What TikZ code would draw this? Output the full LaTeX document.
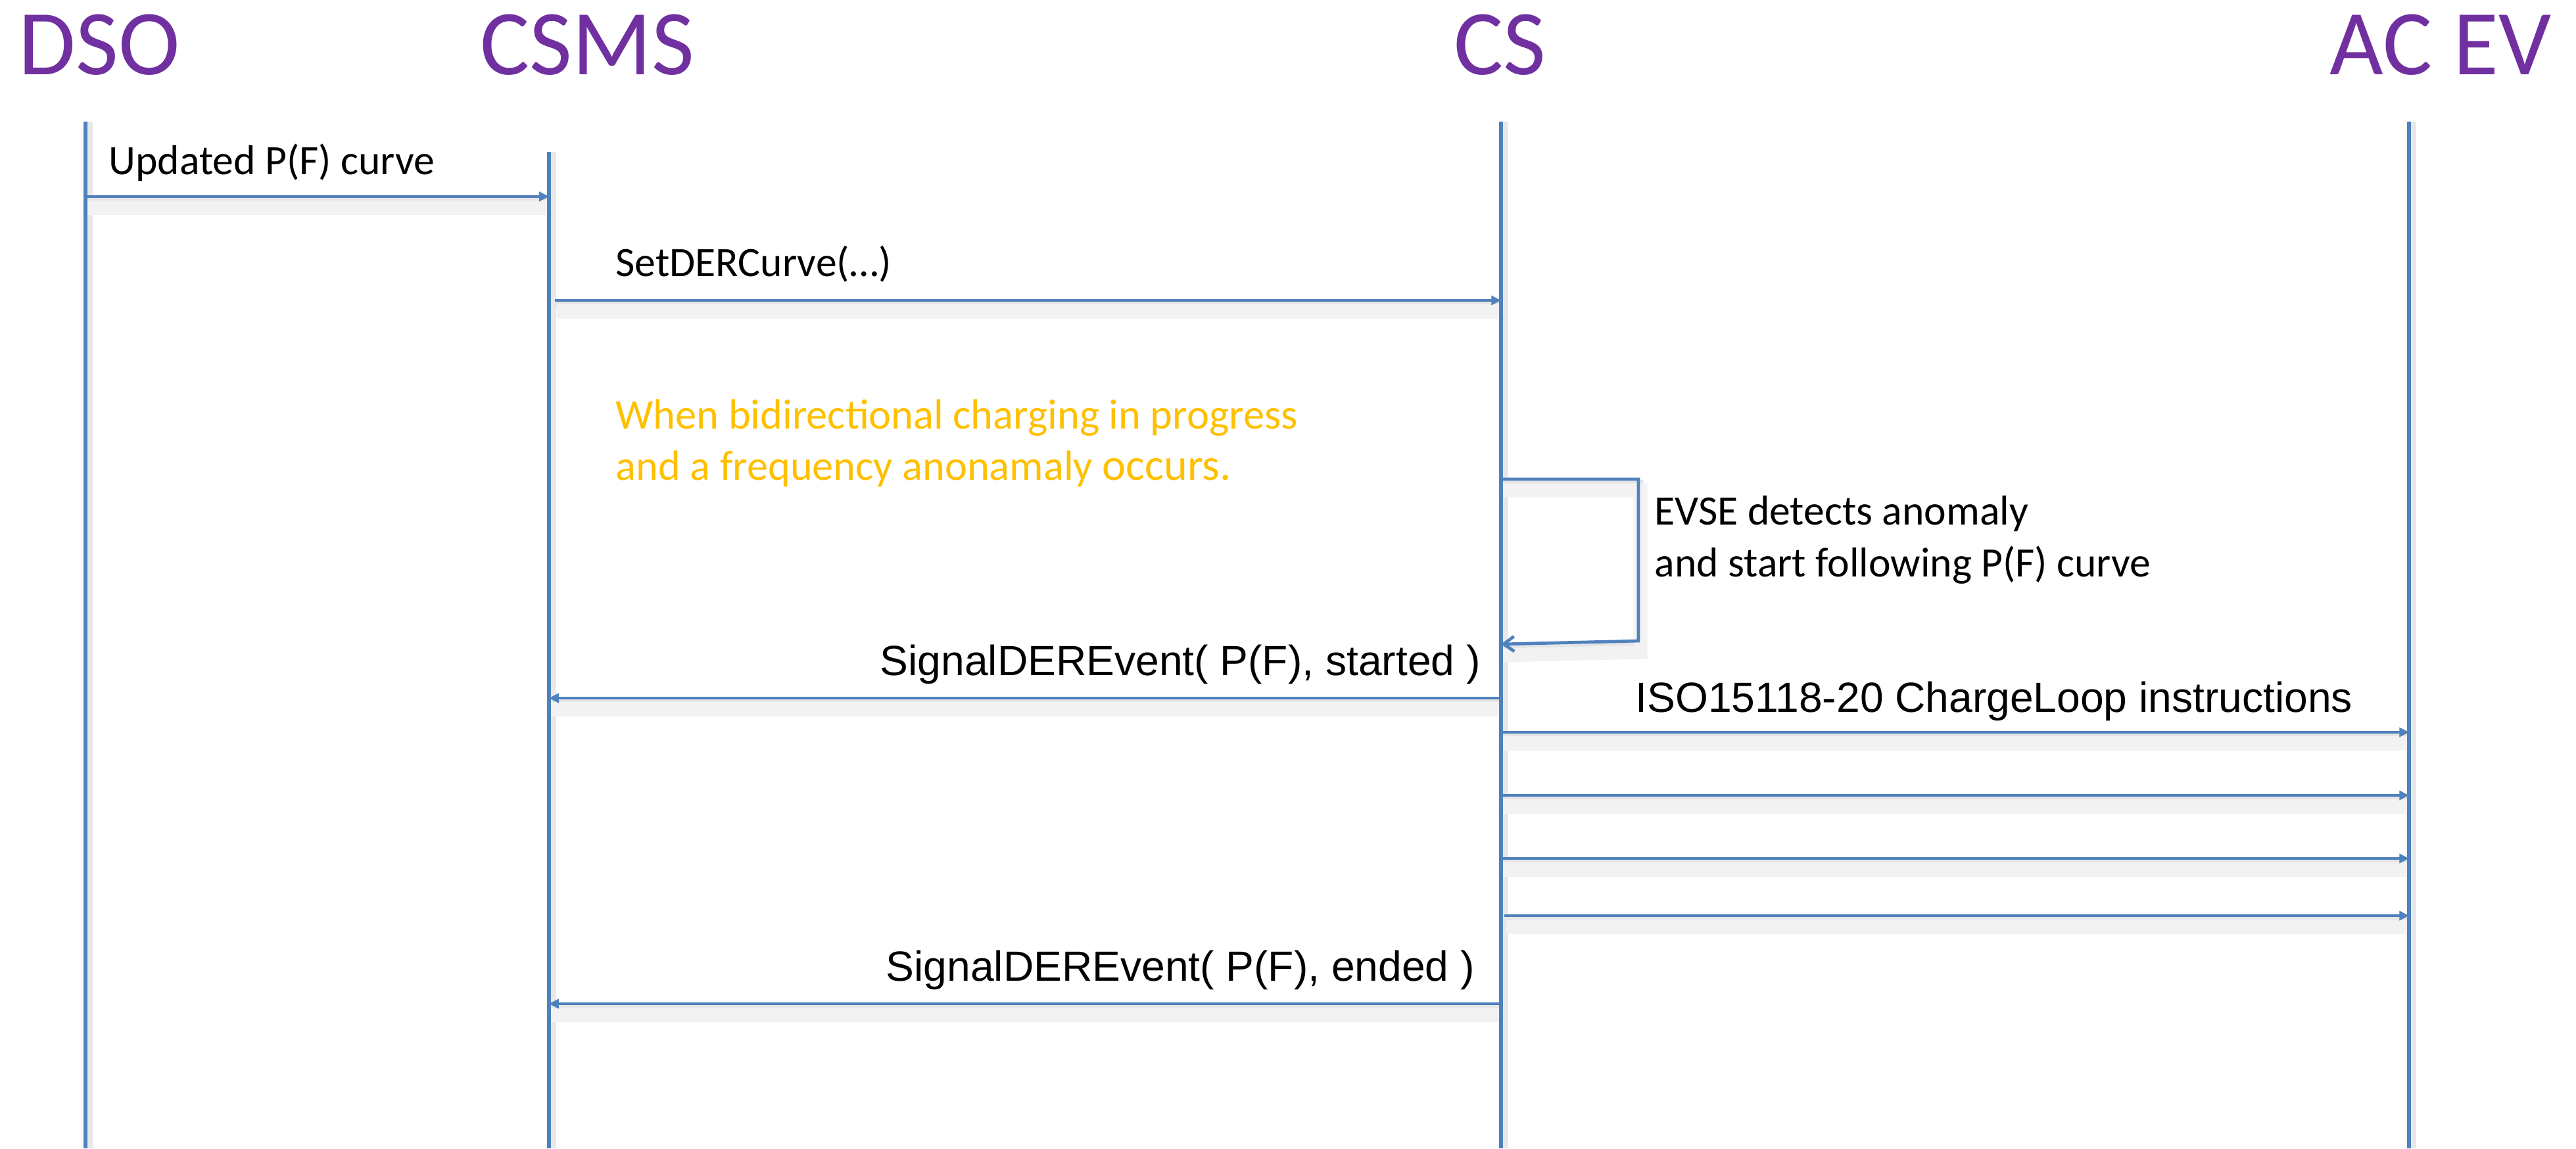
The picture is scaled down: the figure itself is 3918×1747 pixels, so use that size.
\documentclass[tikz,border=0pt]{standalone}
\usepackage{fontspec}
\setmainfont{Carlito}
\newfontfamily\arialfont{Liberation Sans}
\usetikzlibrary{arrows.meta}

\definecolor{lineblue}{HTML}{4F81BD}
\definecolor{actorpurple}{HTML}{7030A0}
\definecolor{noteyellow}{HTML}{FFC000}

\tikzset{
  actor/.style={anchor=base west, inner sep=0pt, text=actorpurple,
    font=\fontsize{40.1pt}{48pt}\selectfont},
  msglabel/.style={anchor=base west, inner sep=0pt,
    font=\fontsize{18.1pt}{21pt}\selectfont},
  isolabel/.style={anchor=base west, inner sep=0pt,
    font=\arialfont\fontsize{18.25pt}{21pt}\selectfont},
  notelabel/.style={anchor=base west, inner sep=0pt, text=noteyellow,
    font=\fontsize{18.3pt}{21pt}\selectfont},
  % soft grey shadow drawn underneath every line
  shadowline/.style={draw=black!10, line width=3.4pt,
    transform canvas={shift={(1.5,7)}},
    postaction={draw=black!5, line width=6pt,
      transform canvas={shift={(1.5,10)}}}},
  lifeshadow/.style={draw=black!9, line width=4pt,
    transform canvas={shift={(4,0)}}},
  lifeline/.style={draw=lineblue, line width=1.55pt},
  msg/.style={draw=lineblue, line width=1.35pt,
    -{Triangle[length=4.2pt, width=4pt]}},
  selfmsg/.style={draw=lineblue, line width=1.35pt,
    -{Straight Barb[length=4.5pt, width=6.5pt, line width=1.35pt]}},
}

\begin{document}
\begin{tikzpicture}[x=0.01cm, y=-0.01cm]
\useasboundingbox (0,0) rectangle (3918,1747);

% participants
\node[actor] (dso)  at (28,113)   {DSO};
\node[actor] (csms) at (730,113)  {CSMS};
\node[actor] (cs)   at (2211,113) {CS};
\node[actor] (acev) at (3543,113) {AC EV};

% lifeline ends
\coordinate (dsoT)  at (130,185);  \coordinate (dsoB)  at (130,1747);
\coordinate (csmsT) at (835,231);  \coordinate (csmsB) at (835,1747);
\coordinate (csT)   at (2283,185); \coordinate (csB)   at (2283,1747);
\coordinate (evT)   at (3664,185); \coordinate (evB)   at (3664,1747);

% message anchor points on the lifelines
\coordinate (m1a) at (130,299);  \coordinate (m1b) at (835,299);
\coordinate (m2a) at (844,457);  \coordinate (m2b) at (2283,457);
\coordinate (s1)  at (2283,729); \coordinate (s2)  at (2492,729);
\coordinate (s3)  at (2492,975); \coordinate (s4)  at (2283,980);
\coordinate (m3a) at (2283,1062); \coordinate (m3b) at (835,1062);
\coordinate (i1a) at (2283,1114); \coordinate (i1b) at (3664,1114);
\coordinate (i2a) at (2283,1210); \coordinate (i2b) at (3664,1210);
\coordinate (i3a) at (2283,1306); \coordinate (i3b) at (3664,1306);
\coordinate (i4a) at (2288,1393); \coordinate (i4b) at (3664,1393);
\coordinate (m4a) at (2283,1527); \coordinate (m4b) at (835,1527);

% shadows first, so the blue lines stay on top
\foreach \p/\q in {dsoT/dsoB, csmsT/csmsB, csT/csB, evT/evB}
  \draw[lifeshadow] (\p) -- (\q);
\foreach \p/\q in {m1a/m1b, m2a/m2b, m3a/m3b, i1a/i1b, i2a/i2b,
                   i3a/i3b, i4a/i4b, m4a/m4b}
  \draw[shadowline] (\p) -- (\q);
\draw[shadowline] (s1) -- (s2) -- (s3) -- (s4);

% lifelines
\draw[lifeline] (dsoT) -- (dsoB);
\draw[lifeline] (csmsT) -- (csmsB);
\draw[lifeline] (csT) -- (csB);
\draw[lifeline] (evT) -- (evB);

% messages
\draw[msg] (m1a) -- (m1b);
\node[msglabel] (l1) at (165,265) {Updated P(F) curve};

\draw[msg] (m2a) -- (m2b);
\node[msglabel] (l2) at (936,420) {SetDERCurve(…)};

\node[notelabel] (n1) at (936,652) {When bidirectional charging in progress};
\node[notelabel] (n2) at (936,730) {and a frequency anonamaly {\fontsize{19.4pt}{21pt}\selectfont occurs.}};

\draw[selfmsg] (s1) -- (s2) -- (s3) -- (s4);
\node[msglabel] (e1) at (2516,798) {EVSE detects anomaly};
\node[msglabel] (e2) at (2516,877) {and start following P(F) curve};

\draw[msg] (m3a) -- (m3b);
\node[isolabel] (l3) at (1338,1027) {SignalDEREvent( P(F), started )};

\draw[msg] (i1a) -- (i1b);
\node[isolabel] (l4) at (2487,1083) {ISO15118-20 ChargeLoop instructions};
\draw[msg] (i2a) -- (i2b);
\draw[msg] (i3a) -- (i3b);
\draw[msg] (i4a) -- (i4b);

\draw[msg] (m4a) -- (m4b);
\node[isolabel] (l5) at (1347,1492) {SignalDEREvent( P(F), ended )};
\end{tikzpicture}
\end{document}
